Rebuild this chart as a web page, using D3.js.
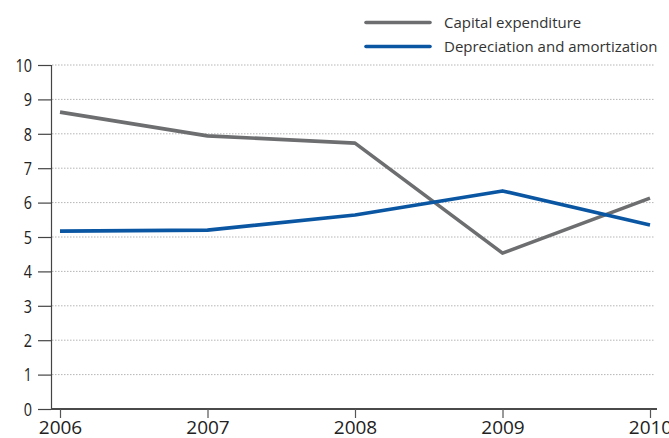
<!DOCTYPE html>
<html>
<head>
<meta charset="utf-8">
<script src="https://cdn.jsdelivr.net/npm/d3@7"></script>
<style>
  body { margin: 0; background: #fff; }
  svg { display: block; font-family: "Open Sans", "Noto Sans", sans-serif; }
</style>
</head>
<body>
<svg id="chart" width="669" height="438"></svg>
<script>
const years = [2006, 2007, 2008, 2009, 2010];
const capex = [8.63, 7.94, 7.73, 4.53, 6.13];
const depreciation = [5.17, 5.2, 5.64, 6.34, 5.35];
const yTicks = [0, 1, 2, 3, 4, 5, 6, 7, 8, 9, 10];
const seriesNames = ["Capital expenditure", "Depreciation and amortization"];
const seriesColors = ["#6d6e70", "#0a56a3"];

const svg = d3.select("#chart");
const plotLeft = 51, plotRight = 657, plotTop = 65, plotBottom = 409;

const x = d3.scalePoint().domain(years).range([60, 650]);
const y = d3.scaleLinear().domain([0, 10]).range([plotBottom, plotTop]);

// dotted gridlines
svg.append("g").selectAll("line").data(yTicks.filter(d => d > 0)).join("line")
  .attr("x1", plotLeft + 1).attr("x2", plotRight - 2)
  .attr("y1", d => y(d)).attr("y2", d => y(d))
  .attr("stroke", "#b5b5b5").attr("stroke-width", 1)
  .attr("stroke-dasharray", "1.5,1.5");

// y axis (labels narrowed horizontally for a condensed look)
const yAxis = svg.append("g").attr("transform", `translate(${plotLeft},0)`)
  .call(d3.axisLeft(y).tickValues(yTicks).tickSize(13).tickFormat(d3.format("d")));
yAxis.select(".domain").attr("stroke", "#444").attr("stroke-width", 1.2)
  .attr("d", `M0.5,${plotTop}V${plotBottom}`);
yAxis.selectAll(".tick line").attr("stroke", "#444").attr("stroke-width", 1.2);
yAxis.selectAll(".tick text")
  .attr("x", 0).attr("dy", "0.35em")
  .attr("transform", "translate(-19,0) scale(0.8,1)")
  .attr("fill", "#222").style("font-size", "18px")
  .attr("font-family", "'Open Sans', sans-serif");

// x axis
const xAxis = svg.append("g").attr("transform", `translate(0,${plotBottom})`)
  .call(d3.axisBottom(x).tickSize(9).tickPadding(3).tickFormat(d3.format("d")));
xAxis.select(".domain").attr("d", `M${plotLeft},0H${plotRight}`)
  .attr("stroke", "#4a4a4a").attr("stroke-width", 2.2);
xAxis.selectAll(".tick line").attr("stroke", "#555").attr("stroke-width", 1.2);
xAxis.selectAll(".tick text").attr("fill", "#222").style("font-size", "19px")
  .attr("font-family", "'Open Sans', sans-serif");

// data lines
const line = d3.line().x((d, i) => x(years[i])).y(d => y(d));
[capex, depreciation].forEach((vals, i) => {
  svg.append("path").datum(vals)
    .attr("d", line).attr("fill", "none")
    .attr("stroke", seriesColors[i]).attr("stroke-width", 3.6)
    .attr("stroke-linejoin", "round").attr("stroke-linecap", "butt");
});

// legend
const legend = svg.append("g");
seriesNames.forEach((name, i) => {
  const ly = 22.5 + i * 24;
  legend.append("line").attr("x1", 366).attr("x2", 430).attr("y1", ly).attr("y2", ly)
    .attr("stroke", seriesColors[i]).attr("stroke-width", 3.6).attr("stroke-linecap", "round");
  legend.append("text").attr("x", 444).attr("y", ly + 5)
    .attr("fill", "#333").style("font-size", "15px").text(name);
});
</script>
</body>
</html>
